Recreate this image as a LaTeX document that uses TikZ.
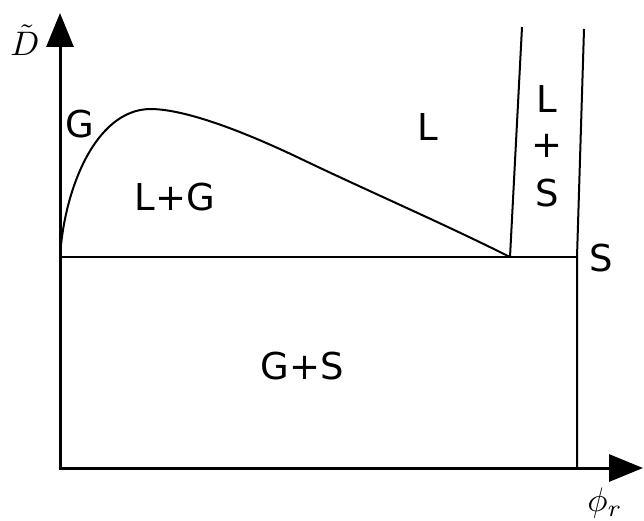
\documentclass[tikz,border=0pt]{standalone}
\usepackage{fontspec}
\setsansfont{DejaVu Sans}
\usetikzlibrary{arrows.meta}
\begin{document}
\begin{tikzpicture}[x=1pt,y=-1pt,
  axis/.style={line width=3pt,-{Triangle[length=34pt,width=27pt]}},
  bound/.style={line width=2pt},
  lab/.style={font=\sffamily\fontsize{37}{37}\selectfont,inner sep=0pt},
  mlab/.style={scale=3.4,inner sep=0pt}]
\useasboundingbox (0,0) rectangle (644,521);
\coordinate (O) at (60,468);
\coordinate (ytip) at (60,13);
\coordinate (xtip) at (643,468);
\coordinate (A) at (60,257);
\coordinate (T) at (510,257);
\coordinate (Tt) at (522,27);
\coordinate (Ss) at (577,257);
\coordinate (St) at (584,29);
\coordinate (Sb) at (577,468);
\coordinate (P) at (150,109);
\coordinate (Q) at (297,157);
\draw[axis] (O) -- (ytip);
\draw[axis] ([xshift=-1.5pt]O) -- (xtip);
\draw[bound] (A) -- (Ss);
\draw[bound] (St) -- (Ss) -- (Sb);
\draw[bound] (T) -- (Tt);
\draw[bound,line join=round] (A) .. controls (64,190) and (95,110) .. (P)
  .. controls (190,109) and (257,138) .. (Q)
  .. controls (370,192) and (440,222) .. (T);
\node[mlab] (ylab) at (25,40) {$\tilde{D}$};
\node[mlab] (xlab) at (605,503) {$\phi_r$};
\node[lab] (g) at (80,124) {G};
\node[lab] (lg) at (175,197) {L+G};
\node[lab] (l) at (428,127) {L};
\node[lab] (ls1) at (547,99) {L};
\node[lab] (ls2) at (547,146) {+};
\node[lab] (ls3) at (547,193) {S};
\node[lab] (s) at (601,258) {S};
\node[lab] (gs) at (302,366) {G+S};
\end{tikzpicture}
\end{document}
